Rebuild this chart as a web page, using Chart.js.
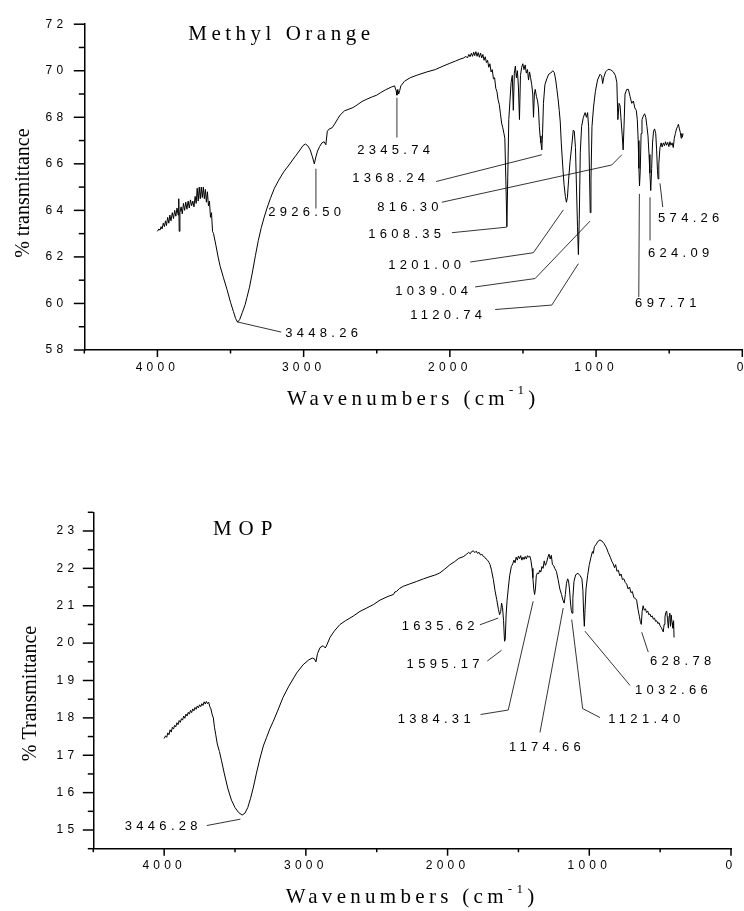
<!DOCTYPE html>
<html>
<head>
<meta charset="utf-8">
<script src="https://cdn.jsdelivr.net/npm/chart.js@4.4.1/dist/chart.umd.min.js"></script>
<style>
  html, body { margin: 0; padding: 0; background: #fff; overflow: hidden; }
  body { width: 744px; height: 911px; position: relative; }
  canvas { position: absolute; left: 0; }
  #moChart { top: 0; }
  #mopChart { top: 420px; }
</style>
</head>
<body>
<canvas id="moChart" width="760" height="420"></canvas>
<canvas id="mopChart" width="760" height="491"></canvas>
<script>
// x axis (wavenumber, cm-1), labelled every 1000
const xTickValues = [0, 1000, 2000, 3000, 4000];
const moYTicks = [58, 60, 62, 64, 66, 68, 70, 72];
const mopYTicks = [15, 16, 17, 18, 19, 20, 21, 22, 23];

// Methyl Orange spectrum: [wavenumber, %T]
const moSpectrum = [
  [4000,63.1],[3990,63.2],[3982,63.15],[3975,63.3],[3968,63.2],[3960,63.45],[3952,63.3],[3945,63.55],[3938,63.35],[3930,63.7],
  [3922,63.45],[3915,63.8],[3907,63.55],[3898,63.9],[3890,63.65],[3882,64.0],[3874,63.75],[3866,64.1],[3858,63.8],[3854,64.5],
  [3851,63.1],[3846,63.9],[3838,64.15],[3830,63.85],[3822,64.3],[3814,64.0],[3806,64.35],[3798,64.05],[3790,64.4],[3782,64.1],
  [3774,64.45],[3766,64.2],[3758,64.4],[3750,64.15],[3742,64.6],[3735,64.3],[3728,64.95],[3721,64.4],[3714,65.0],[3707,64.5],
  [3700,65.0],[3693,64.55],[3686,65.0],[3679,64.5],[3672,64.9],[3665,64.35],[3658,64.8],[3651,64.2],[3644,64.4],[3637,63.7],
  [3630,63.9],[3623,63.1],[3616,63.0],[3600,62.5],[3585,62.0],[3571,61.6],[3548,61.1],[3524,60.6],[3500,60.05],[3480,59.65],
  [3465,59.35],[3452,59.2],[3438,59.3],[3420,59.6],[3400,59.95],[3388,60.25],[3370,60.7],[3350,61.35],[3330,62.05],[3310,62.7],
  [3290,63.25],[3270,63.7],[3250,64.1],[3228,64.5],[3200,64.95],[3170,65.3],[3137,65.65],[3100,65.95],[3060,66.3],[3030,66.55],
  [3005,66.78],[2988,66.85],[2972,66.78],[2955,66.6],[2940,66.3],[2927,66.0],[2918,66.25],[2905,66.55],[2890,66.75],[2875,66.9],
  [2860,66.95],[2848,66.82],[2838,67.4],[2825,67.5],[2805,67.55],[2784,67.75],[2765,67.95],[2750,68.1],[2720,68.28],[2690,68.35],
  [2661,68.42],[2630,68.55],[2600,68.68],[2567,68.78],[2530,68.88],[2500,68.95],[2476,69.05],[2440,69.18],[2400,69.3],[2378,69.35],
  [2368,69.15],[2362,68.95],[2356,69.2],[2350,69.0],[2343,69.15],[2335,69.35],[2310,69.55],[2271,69.7],[2220,69.82],[2157,69.95],
  [2100,70.05],[2046,70.2],[2000,70.32],[1960,70.42],[1930,70.5],[1905,70.55],[1890,70.62],[1880,70.55],[1870,70.7],[1862,70.6],
  [1853,70.75],[1845,70.62],[1837,70.8],[1830,70.65],[1822,70.82],[1814,70.62],[1806,70.78],[1798,70.58],[1790,70.76],[1782,70.55],
  [1774,70.7],[1766,70.45],[1758,70.6],[1750,70.35],[1742,70.45],[1734,70.15],[1726,70.3],[1718,69.95],[1710,70.05],[1702,69.65],
  [1694,69.7],[1686,69.25],[1678,69.1],[1670,68.75],[1662,68.55],[1654,68.15],[1646,67.75],[1638,67.55],[1630,67.3],[1624,67.1],
  [1617,65.3],[1610,63.3],[1604,65.4],[1597,67.9],[1589,68.7],[1581,69.5],[1573,69.8],[1566,68.3],[1559,69.9],[1552,70.2],
  [1545,69.7],[1538,70.0],[1531,69.3],[1524,67.9],[1517,69.8],[1509,70.15],[1501,70.3],[1493,70.05],[1485,70.25],[1477,69.9],
  [1469,70.05],[1462,69.6],[1455,69.95],[1448,69.7],[1440,69.4],[1433,69.0],[1428,68.0],[1422,69.0],[1416,69.2],[1408,68.9],
  [1400,68.7],[1394,68.4],[1388,67.6],[1383,67.2],[1377,66.9],[1371,66.6],[1366,67.3],[1360,68.6],[1350,69.4],[1337,69.65],
  [1324,69.85],[1310,69.9],[1296,70.0],[1286,69.92],[1276,69.6],[1268,69.2],[1260,68.8],[1252,68.3],[1245,67.8],[1238,66.9],
  [1228,65.9],[1219,65.1],[1210,64.6],[1203,64.35],[1196,64.55],[1188,65.3],[1178,66.1],[1166,66.8],[1156,67.45],[1149,67.4],
  [1141,66.7],[1134,65.0],[1127,63.3],[1121,62.1],[1115,63.6],[1108,66.5],[1099,67.6],[1087,68.0],[1075,68.2],[1066,68.0],
  [1058,68.2],[1051,67.6],[1045,65.6],[1040,63.9],[1035,65.3],[1028,67.6],[1018,68.4],[1005,69.1],[990,69.6],[973,69.85],
  [962,69.78],[955,69.45],[948,69.7],[935,69.95],[918,70.06],[900,70.04],[882,69.95],[868,69.8],[858,69.5],[851,67.9],
  [843,68.6],[836,68.5],[828,67.8],[821,67.2],[815,66.6],[809,67.6],[802,69.0],[790,69.2],[779,69.2],[768,68.9],
  [756,68.6],[745,68.7],[735,68.4],[725,68.3],[718,67.9],[712,67.0],[707,65.8],[703,65.05],[698,65.7],[692,67.3],
  [686,67.9],[677,68.05],[668,68.15],[660,68.0],[652,67.6],[645,67.2],[638,66.4],[632,65.6],[626,64.85],[620,65.8],
  [614,66.9],[607,67.4],[600,67.5],[592,67.3],[586,66.6],[580,65.7],[576,65.35],[571,66.0],[563,66.7],[555,66.9],
  [548,66.72],[540,66.9],[532,66.78],[525,66.95],[518,66.8],[510,66.92],[502,66.74],[495,66.95],[488,66.8],[480,66.9],
  [472,66.7],[465,67.1],[458,67.3],[450,67.5],[443,67.6],[437,67.7],[430,67.5],[424,67.35],[418,67.1],[414,67.3],
  [410,67.15],[405,67.3]
];

// MOP spectrum: [wavenumber, %T]
const mopSpectrum = [
  [4000,17.45],[3990,17.52],[3982,17.48],[3974,17.6],[3966,17.55],[3958,17.68],[3950,17.62],[3942,17.75],[3934,17.7],[3926,17.8],
  [3918,17.76],[3910,17.87],[3902,17.82],[3894,17.93],[3886,17.88],[3878,17.98],[3870,17.94],[3862,18.05],[3854,17.99],[3846,18.1],
  [3838,18.05],[3830,18.15],[3822,18.1],[3814,18.2],[3806,18.14],[3798,18.24],[3790,18.19],[3782,18.28],[3774,18.23],[3766,18.32],
  [3758,18.27],[3750,18.35],[3742,18.3],[3734,18.38],[3726,18.33],[3718,18.43],[3710,18.37],[3702,18.44],[3694,18.38],[3686,18.42],
  [3678,18.3],[3670,18.24],[3662,18.1],[3653,18.0],[3645,17.75],[3636,17.55],[3625,17.3],[3610,17.1],[3595,16.85],[3575,16.5],
  [3550,16.1],[3525,15.8],[3500,15.6],[3475,15.47],[3450,15.4],[3430,15.45],[3410,15.6],[3390,15.85],[3370,16.15],[3350,16.5],
  [3325,16.9],[3300,17.25],[3277,17.48],[3255,17.7],[3231,17.9],[3200,18.18],[3161,18.55],[3120,18.85],[3065,19.2],[3020,19.42],
  [2980,19.55],[2955,19.6],[2940,19.58],[2929,19.5],[2918,19.72],[2900,19.88],[2878,19.93],[2863,19.87],[2852,19.95],[2830,20.15],
  [2800,20.32],[2759,20.5],[2720,20.6],[2667,20.72],[2618,20.85],[2570,20.94],[2524,21.03],[2477,21.15],[2420,21.25],[2382,21.3],
  [2372,21.37],[2360,21.38],[2340,21.46],[2313,21.52],[2270,21.58],[2218,21.65],[2170,21.72],[2124,21.78],[2090,21.82],[2054,21.88],
  [2020,21.98],[1983,22.1],[1950,22.18],[1920,22.27],[1890,22.31],[1865,22.38],[1852,22.43],[1840,22.39],[1830,22.45],[1818,22.47],
  [1808,22.42],[1798,22.46],[1788,22.4],[1778,22.43],[1768,22.36],[1758,22.38],[1748,22.32],[1738,22.3],[1728,22.25],[1718,22.22],
  [1708,22.16],[1700,22.1],[1690,21.95],[1677,21.7],[1665,21.4],[1653,21.16],[1641,20.9],[1633,20.76],[1625,20.85],[1619,21.07],
  [1612,20.95],[1605,20.6],[1598,20.05],[1593,20.1],[1587,20.75],[1580,21.15],[1572,21.45],[1562,21.8],[1550,22.05],[1540,22.12],
  [1532,22.22],[1524,22.15],[1516,22.3],[1508,22.22],[1500,22.33],[1492,22.26],[1484,22.34],[1476,22.22],[1468,22.3],[1460,22.24],
  [1452,22.32],[1444,22.25],[1436,22.34],[1428,22.3],[1420,22.33],[1412,22.22],[1404,22.0],[1398,21.75],[1392,21.45],[1386,21.3],
  [1380,21.45],[1374,21.8],[1366,21.88],[1358,21.85],[1350,21.95],[1342,21.9],[1334,22.05],[1326,22.0],[1318,22.2],[1310,22.08],
  [1302,22.15],[1292,22.3],[1284,22.38],[1276,22.25],[1268,22.35],[1260,22.1],[1252,22.08],[1244,22.0],[1232,21.92],[1220,21.7],
  [1208,21.45],[1196,21.3],[1186,21.15],[1177,21.07],[1169,21.3],[1161,21.6],[1153,21.72],[1147,21.68],[1140,21.45],[1133,21.1],
  [1127,20.88],[1122,20.8],[1116,21.2],[1108,21.65],[1096,21.83],[1080,21.87],[1064,21.8],[1052,21.72],[1045,21.4],[1040,20.8],
  [1035,20.45],[1030,20.9],[1023,21.45],[1012,21.8],[1000,22.1],[988,22.3],[978,22.45],[972,22.4],[964,22.58],[950,22.65],
  [940,22.72],[925,22.76],[910,22.73],[895,22.66],[880,22.56],[866,22.42],[852,22.3],[840,22.18],[831,22.12],[822,22.02],
  [814,22.1],[805,21.92],[795,21.95],[785,21.8],[776,21.85],[766,21.7],[756,21.72],[746,21.62],[736,21.58],[726,21.45],
  [716,21.5],[706,21.35],[696,21.38],[686,21.22],[676,21.2],[666,21.15],[656,20.9],[647,20.72],[640,20.58],[633,20.5],
  [627,20.85],[620,21.0],[612,20.88],[604,20.92],[596,20.82],[588,20.86],[580,20.76],[572,20.78],[564,20.7],[556,20.73],
  [548,20.64],[540,20.67],[532,20.58],[524,20.6],[516,20.52],[508,20.55],[500,20.46],[492,20.42],[484,20.35],[478,20.3],
  [472,20.5],[466,20.7],[460,20.82],[454,20.86],[448,20.65],[442,20.4],[437,20.72],[432,20.8],[427,20.45],[422,20.75],
  [416,20.55],[410,20.4],[405,20.6],[402,20.15]
];

const moPeakLabels = ['3448.26', '2926.50', '2345.74', '1368.24', '816.30', '1608.35', '1201.00', '1039.04', '1120.74', '697.71', '624.09', '574.26'];
const mopPeakLabels = ['3446.28', '1635.62', '1595.17', '1384.31', '1174.66', '1121.40', '1032.66', '628.78'];

// where the peak labels and their leader lines sit, in data units
const moLabelAnchors = [[3126, 58.73], [3242, 63.92], [2634, 66.56], [2668, 65.36], [2497, 64.14], [2558, 62.97],
  [2422, 61.64], [2374, 60.53], [2271, 59.5], [733, 60.0], [645, 62.14], [576, 63.64]];
const moLeaders = [
  [[3456, 59.21], [3153, 58.77]],
  [[2916, 65.79], [2916, 64.08]],
  [[2362, 68.84], [2362, 67.13]],
  [[2094, 65.24], [1371, 66.39]],
  [[2055, 64.35], [893, 65.95], [824, 66.39]],
  [[1986, 63.04], [1610, 63.28]],
  [[1861, 61.78], [1429, 62.18], [1224, 64.02]],
  [[1827, 60.71], [1417, 61.07], [1041, 63.54]],
  [[1690, 59.74], [1303, 59.93], [1121, 61.71]],
  [[704, 64.71], [708, 60.28]],
  [[631, 64.56], [631, 62.71]],
  [[563, 65.16], [544, 64.14]]
];
const mopLabelAnchors = [[4278, 15.09], [2324, 20.45], [2289, 19.43], [2351, 17.96], [1567, 17.21], [866, 17.96], [678, 18.74], [572, 19.52]];
const mopLeaders = [
  [[3699, 15.12], [3462, 15.29]],
  [[1772, 20.49], [1643, 20.67]],
  [[1720, 19.52], [1619, 19.81]],
  [[1767, 18.09], [1572, 18.21], [1396, 21.12]],
  [[1184, 20.94], [1348, 17.61]],
  [[925, 18.01], [1047, 18.25], [1124, 20.63]],
  [[713, 18.87], [1031, 20.32]],
  [[584, 19.76], [630, 20.29]]
];

const SANS = '"Liberation Sans", Arial, sans-serif';
const SERIF = '"Liberation Serif", "Times New Roman", serif';

function makeDecor(spec) {
  return {
    id: 'decor',
    beforeDraw(chart) {
      chart.ctx.letterSpacing = '4.2px';
    },
    afterDraw(chart) {
      const { ctx, chartArea: a, scales: { x, y } } = chart;
      const seg = (x1, y1, x2, y2) => { ctx.beginPath(); ctx.moveTo(x1, y1); ctx.lineTo(x2, y2); ctx.stroke(); };
      ctx.save();
      ctx.strokeStyle = '#000';
      ctx.fillStyle = '#000';

      // tick marks
      ctx.lineWidth = 1.5;
      xTickValues.forEach(v => {
        const p = x.getPixelForValue(v);
        seg(p, a.bottom, p, a.bottom + 7);
        const m = x.getPixelForValue(v + 500);
        seg(m, a.bottom, m, a.bottom + 3.5);
      });
      const step = spec.yTicks[1] - spec.yTicks[0];
      [spec.yTicks[0] - step / 2, ...spec.yTicks.map(v => v + step / 2)].forEach(v => {
        if (v < spec.yMin || v > spec.yMax) return;
        const p = y.getPixelForValue(v);
        seg(a.left - 5.5, p, a.left, p);
      });
      spec.yTicks.forEach(v => {
        const p = y.getPixelForValue(v);
        seg(a.left - 10.5, p, a.left, p);
      });

      // peak leader lines
      ctx.lineWidth = 0.8;
      spec.leaders.forEach(pts => {
        ctx.beginPath();
        pts.forEach((q, i) => {
          const px = x.getPixelForValue(q[0]), py = y.getPixelForValue(q[1]);
          if (i) ctx.lineTo(px, py); else ctx.moveTo(px, py);
        });
        ctx.stroke();
      });

      // peak labels
      ctx.font = '13px ' + SANS;
      ctx.letterSpacing = '4.3px';
      ctx.textAlign = 'left';
      ctx.textBaseline = 'middle';
      spec.labels.forEach((t, i) => {
        const [lx, ly] = spec.anchors[i];
        ctx.fillText(t, x.getPixelForValue(lx), y.getPixelForValue(ly));
      });

      // sample name
      ctx.font = '21px ' + SERIF;
      ctx.letterSpacing = spec.titleSpacing;
      ctx.fillText(spec.title, x.getPixelForValue(spec.titleAt[0]), y.getPixelForValue(spec.titleAt[1]));

      // y title
      ctx.save();
      ctx.letterSpacing = '0px';
      ctx.font = '20px ' + SERIF;
      ctx.translate(a.left - spec.yTitleGap, (a.top + a.bottom) / 2 + spec.yTitleShift);
      ctx.rotate(-Math.PI / 2);
      ctx.textAlign = 'center';
      ctx.fillText(spec.yTitle, 0, 0);
      ctx.restore();

      // x title with superscript
      ctx.letterSpacing = '4.3px';
      const main = 'Wavenumbers (cm', sup = '-1', close = ')';
      ctx.font = '21px ' + SERIF;
      const w1 = ctx.measureText(main).width, w3 = ctx.measureText(close).width;
      ctx.font = '13px ' + SERIF;
      const w2 = ctx.measureText(sup).width;
      let cx = (a.left + a.right) / 2 - (w1 + w2 + w3) / 2;
      const cy = a.bottom + 49;
      ctx.textAlign = 'left';
      ctx.font = '21px ' + SERIF;
      ctx.fillText(main, cx, cy);
      cx += w1;
      ctx.font = '13px ' + SERIF;
      ctx.fillText(sup, cx, cy - 8);
      cx += w2;
      ctx.font = '21px ' + SERIF;
      ctx.fillText(close, cx, cy);

      ctx.restore();
    }
  };
}

function buildChart(id, points, spec) {
  return new Chart(document.getElementById(id), {
    type: 'line',
    data: {
      datasets: [{
        data: points.map(p => ({ x: p[0], y: p[1] })),
        borderColor: '#000',
        borderWidth: 1,
        pointRadius: 0,
        tension: 0,
        fill: false
      }]
    },
    options: {
      responsive: false,
      animation: false,
      devicePixelRatio: 1,
      layout: { padding: spec.padding },
      plugins: { legend: { display: false }, tooltip: { enabled: false } },
      scales: {
        x: {
          type: 'linear',
          reverse: true,
          min: 0,
          max: 4500,
          afterBuildTicks: s => { s.ticks = xTickValues.map(v => ({ value: v })); },
          afterFit: s => { s.height = 40; },
          grid: { display: false, drawTicks: false },
          border: { display: true, color: '#000', width: 1.5 },
          ticks: { color: '#000', font: { family: SANS, size: 12 }, padding: 10, maxRotation: 0, autoSkip: false, callback: v => String(v) }
        },
        y: {
          min: spec.yMin,
          max: spec.yMax,
          afterBuildTicks: s => { s.ticks = spec.yTicks.map(v => ({ value: v })); },
          afterFit: s => { s.width = spec.axisLeft; },
          grid: { display: false, drawTicks: false },
          border: { display: true, color: '#000', width: 1.5 },
          ticks: { color: '#000', font: { family: SANS, size: 12 }, padding: spec.yTickPad, autoSkip: false, callback: v => String(v) }
        }
      }
    },
    plugins: [makeDecor(spec)]
  });
}

buildChart('moChart', moSpectrum, {
  yMin: 58, yMax: 72, yTicks: moYTicks,
  axisLeft: 84.3, yTickPad: 17,
  padding: { top: 23, left: 0, right: 17.7, bottom: 30 },
  labels: moPeakLabels, anchors: moLabelAnchors, leaders: moLeaders,
  title: 'Methyl Orange', titleAt: [3789, 71.57], titleSpacing: '4.5px',
  yTitle: '% transmittance', yTitleGap: 61, yTitleShift: 6
});

buildChart('mopChart', mopSpectrum, {
  yMin: 14.5, yMax: 23.5, yTicks: mopYTicks,
  axisLeft: 93.3, yTickPad: 15,
  padding: { top: 92.3, left: 0, right: 29, bottom: 22.3 },
  labels: mopPeakLabels, anchors: mopLabelAnchors, leaders: mopLeaders,
  title: 'MOP', titleAt: [3656, 23.05], titleSpacing: '7px',
  yTitle: '% Transmittance', yTitleGap: 63, yTitleShift: 13
});
</script>
</body>
</html>
